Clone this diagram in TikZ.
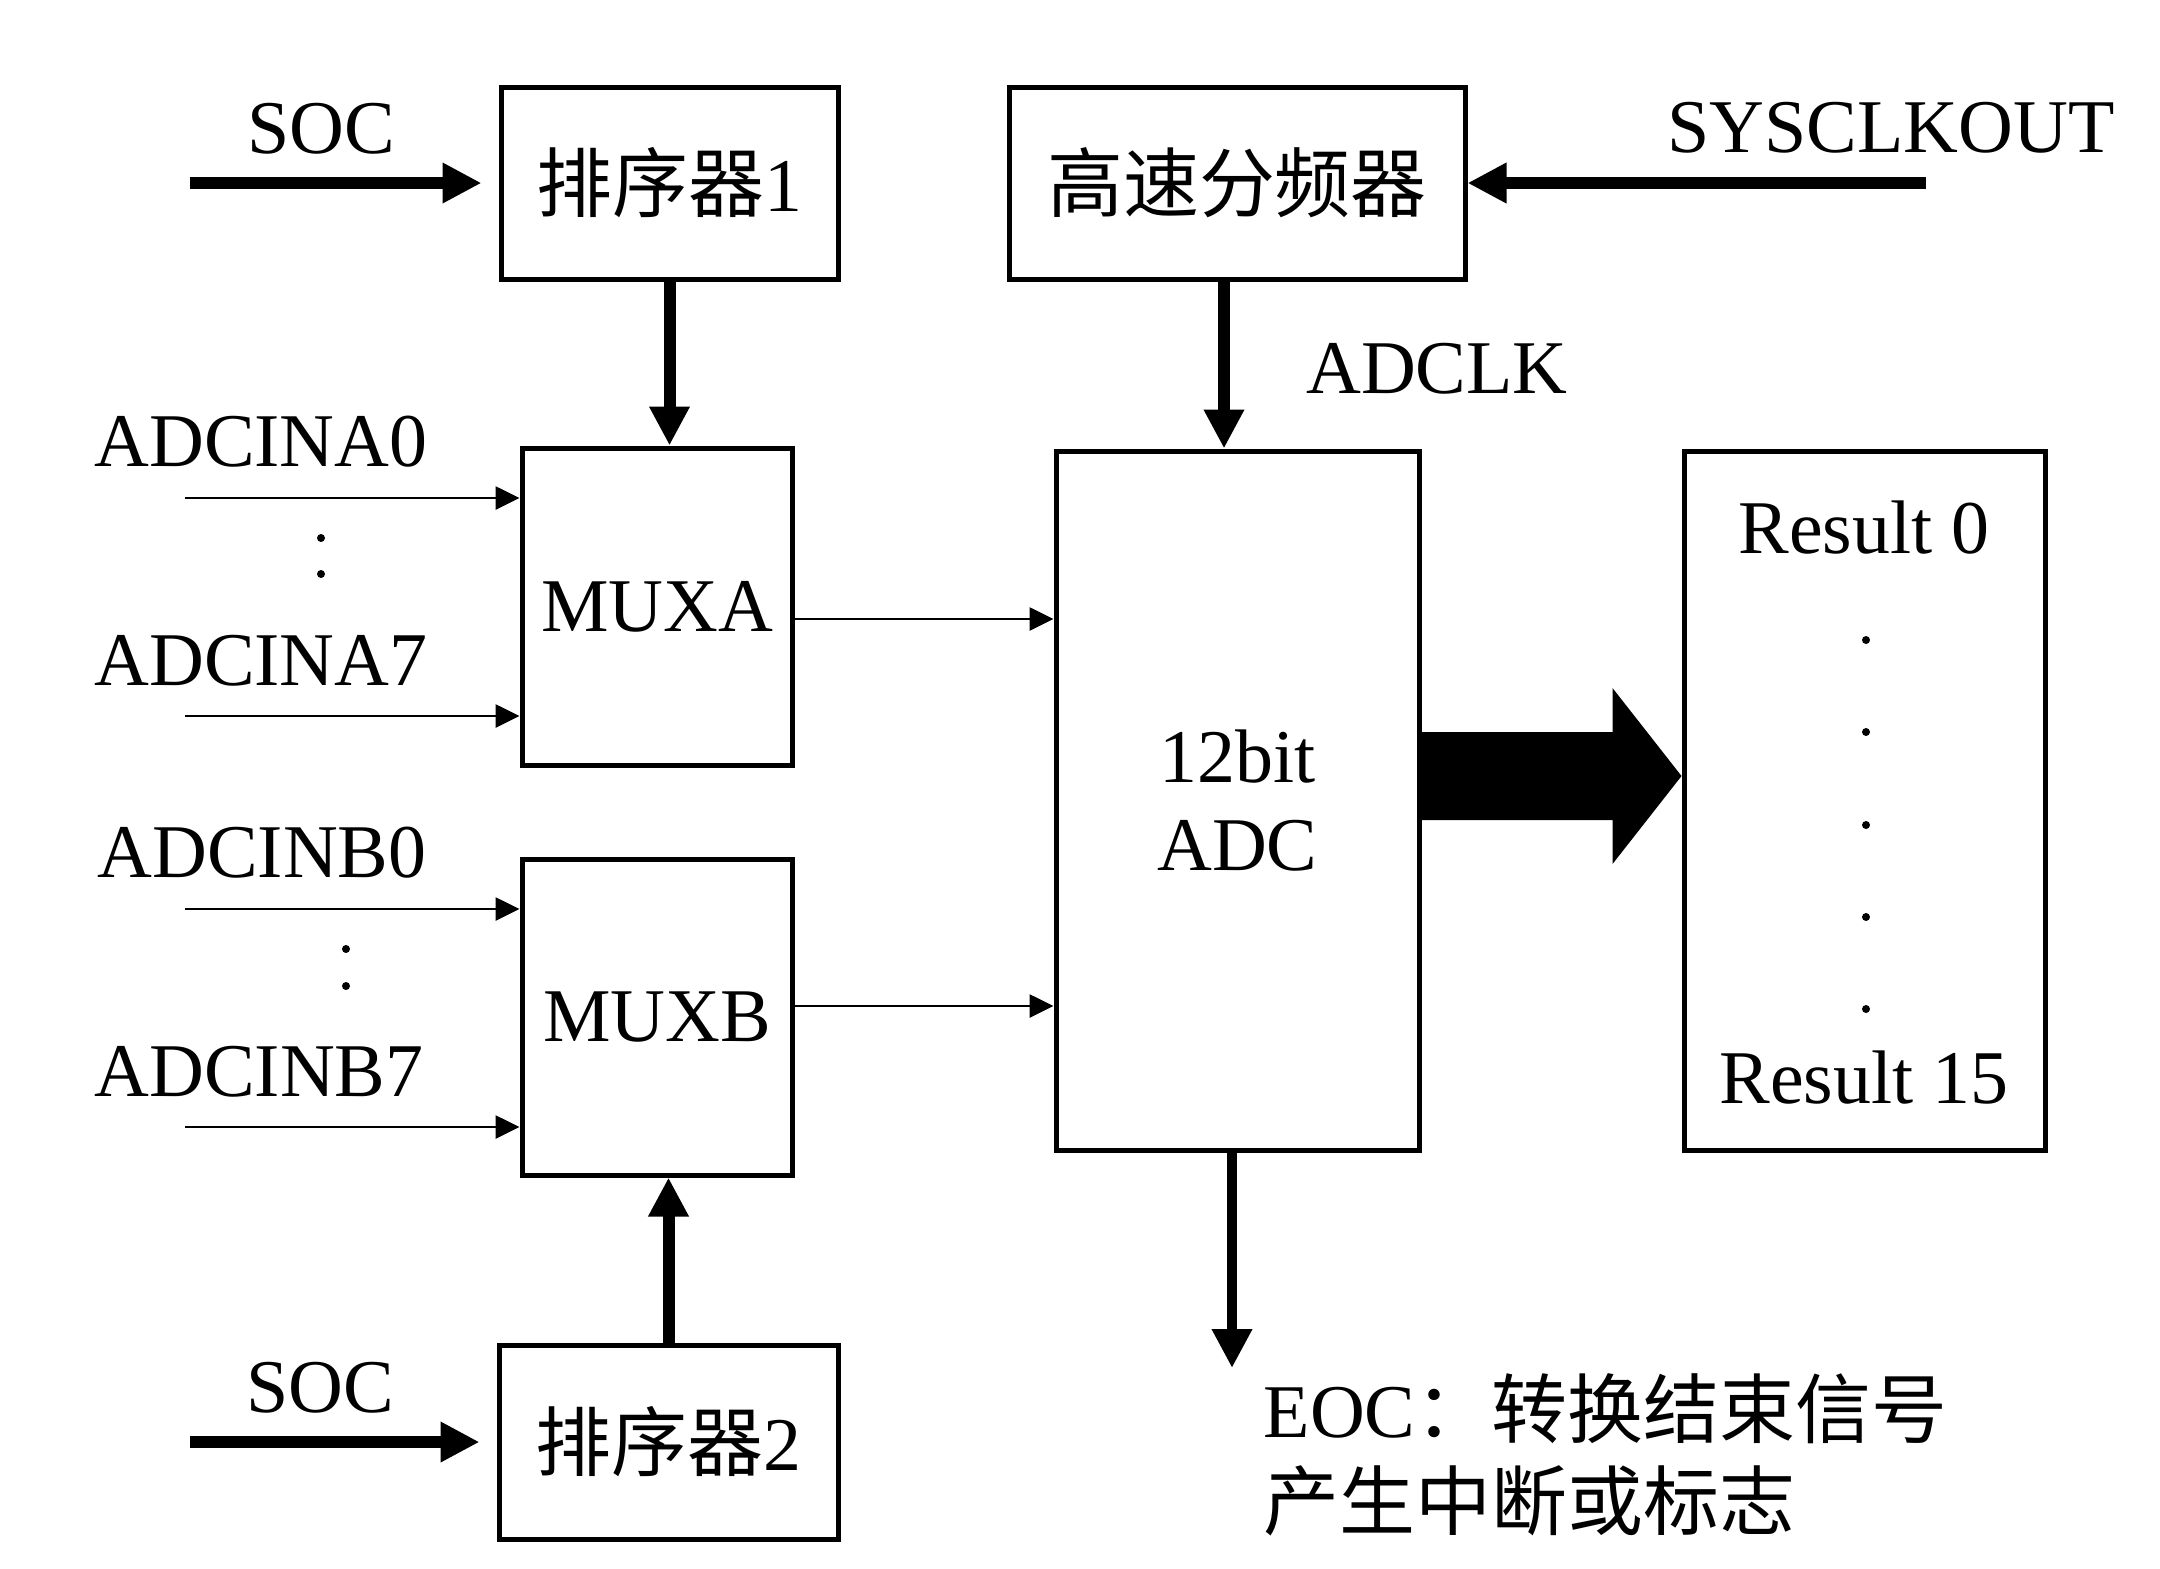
\documentclass[tikz,border=0pt]{standalone}
\usepackage{fontspec}
\setmainfont{Liberation Serif}
\newfontfamily\cjk{Noto Sans CJK SC}
\usetikzlibrary{arrows.meta,calc}
\newcommand\myfs{\fontsize{21.6pt}{25.3pt}\selectfont}
\tikzset{
  thickarr/.style={line width=1.2mm, -{Triangle[length=3.9mm,width=3.8mm]}},
  thinarr/.style={line width=0.28mm, -{Triangle[length=2.4mm,width=2.3mm]}},
  box/.style={draw, line width=0.5mm, inner sep=0pt, font=\myfs, align=center},
  lbl/.style={inner sep=0pt, font=\myfs, anchor=base},
  dotmark/.style={fill=black},
}
\begin{document}
\begin{tikzpicture}[x=0.1mm, y=-0.1mm]
\useasboundingbox[fill=white] (0,0) rectangle (2160,1568);

% boxes
\node[box, minimum width=33.7mm, minimum height=19.2mm] (seq1) at (669.5,183) {{\cjk 排序器}1};
\node[box, minimum width=45.6mm, minimum height=19.2mm] (div) at (1237,183) {\cjk 高速分频器};
\node[box, minimum width=27mm, minimum height=31.7mm] (muxa) at (657,606.5) {MUXA};
\node[box, minimum width=27mm, minimum height=31.6mm] (muxb) at (657,1017) {MUXB};
\node[box, minimum width=36.3mm, minimum height=69.9mm] (adc) at (1237.5,800.5) {12bit\\ADC};
\node[box, minimum width=36.1mm, minimum height=69.9mm] (res) at (1864.5,800.5) {};
\node[box, minimum width=33.9mm, minimum height=19.4mm] (seq2) at (668.5,1442) {{\cjk 排序器}2};

% labels
\node[lbl] (soc1) at (321,153) {SOC};
\node[lbl] (soc2) at (320,1412) {SOC};
\node[lbl] (sysclk) at (1891,152) {SYSCLKOUT};
\node[lbl] (adclk) at (1437,393) {ADCLK};
\node[lbl] (ina0) at (261,466) {ADCINA0};
\node[lbl] (ina7) at (261,685) {ADCINA7};
\node[lbl] (inb0) at (262,877) {ADCINB0};
\node[lbl] (inb7) at (259,1096) {ADCINB7};
\node[lbl] (r0) at (1864,553) {Result 0};
\node[lbl] (r15) at (1864,1103) {Result 15};
\node[lbl, anchor=base west] (eoc1) at (1263,1437) {EOC{\cjk ：转换结束信号}};
\node[lbl, anchor=base west] (eoc2) at (1263,1529) {\cjk 产生中断或标志};

% dots
\foreach \p in {(321,538),(321,574),(346,949),(346,986),(1866,640),(1866,732),(1866,825),(1866,917),(1866,1009)}
  \fill[dotmark] \p circle (4);

% thick connectors
\coordinate (soc1s) at (190,183);
\coordinate (soc2s) at (190,1442);
\coordinate (syss) at (1926,183);
\draw[thickarr, shorten >=1.7mm] (soc1s) -- (soc1s -| seq1.west);
\draw[thickarr, shorten >=1.7mm] (soc2s) -- (soc2s -| seq2.west);
\draw[thickarr] (syss) -- (div.east);
\draw[thickarr] (seq1.south) -- (seq1.south |- muxa.north);
\draw[thickarr] (seq2.north) -- (seq2.north |- muxb.south);
\coordinate (clk) at ($(div.south)+(-13,0)$);
\draw[thickarr] (clk) -- (clk |- adc.north);
\coordinate (eocs) at (adc.south -| 1232,0);
\coordinate (eoce) at (1232,1368);
\draw[thickarr, line width=1.05mm] (eocs) -- (eoce);

% thin input connectors
\foreach \yy/\nm in {498/a0,716/a7,909/b0,1127/b7}{
  \coordinate (\nm) at (185,\yy);
}
\draw[thinarr] (a0) -- (a0 -| muxa.west);
\draw[thinarr] (a7) -- (a7 -| muxa.west);
\draw[thinarr] (b0) -- (b0 -| muxb.west);
\draw[thinarr] (b7) -- (b7 -| muxb.west);
\coordinate (ma) at (muxa.east |- 0,619);
\coordinate (mb) at (muxb.east |- 0,1006);
\draw[thinarr] (ma) -- (ma -| adc.west);
\draw[thinarr] (mb) -- (mb -| adc.west);

% big data arrow ADC -> results
\coordinate (bs) at ($(adc.east)+(0,-24.5)$);
\coordinate (bt) at (bs -| res.west);
\fill ($(bs)+(0,-44)$) -- ($(bt)+(-69,-44)$) -- ($(bt)+(-69,-88)$) -- (bt)
  -- ($(bt)+(-69,88)$) -- ($(bt)+(-69,44)$) -- ($(bs)+(0,44)$) -- cycle;
\end{tikzpicture}
\end{document}
